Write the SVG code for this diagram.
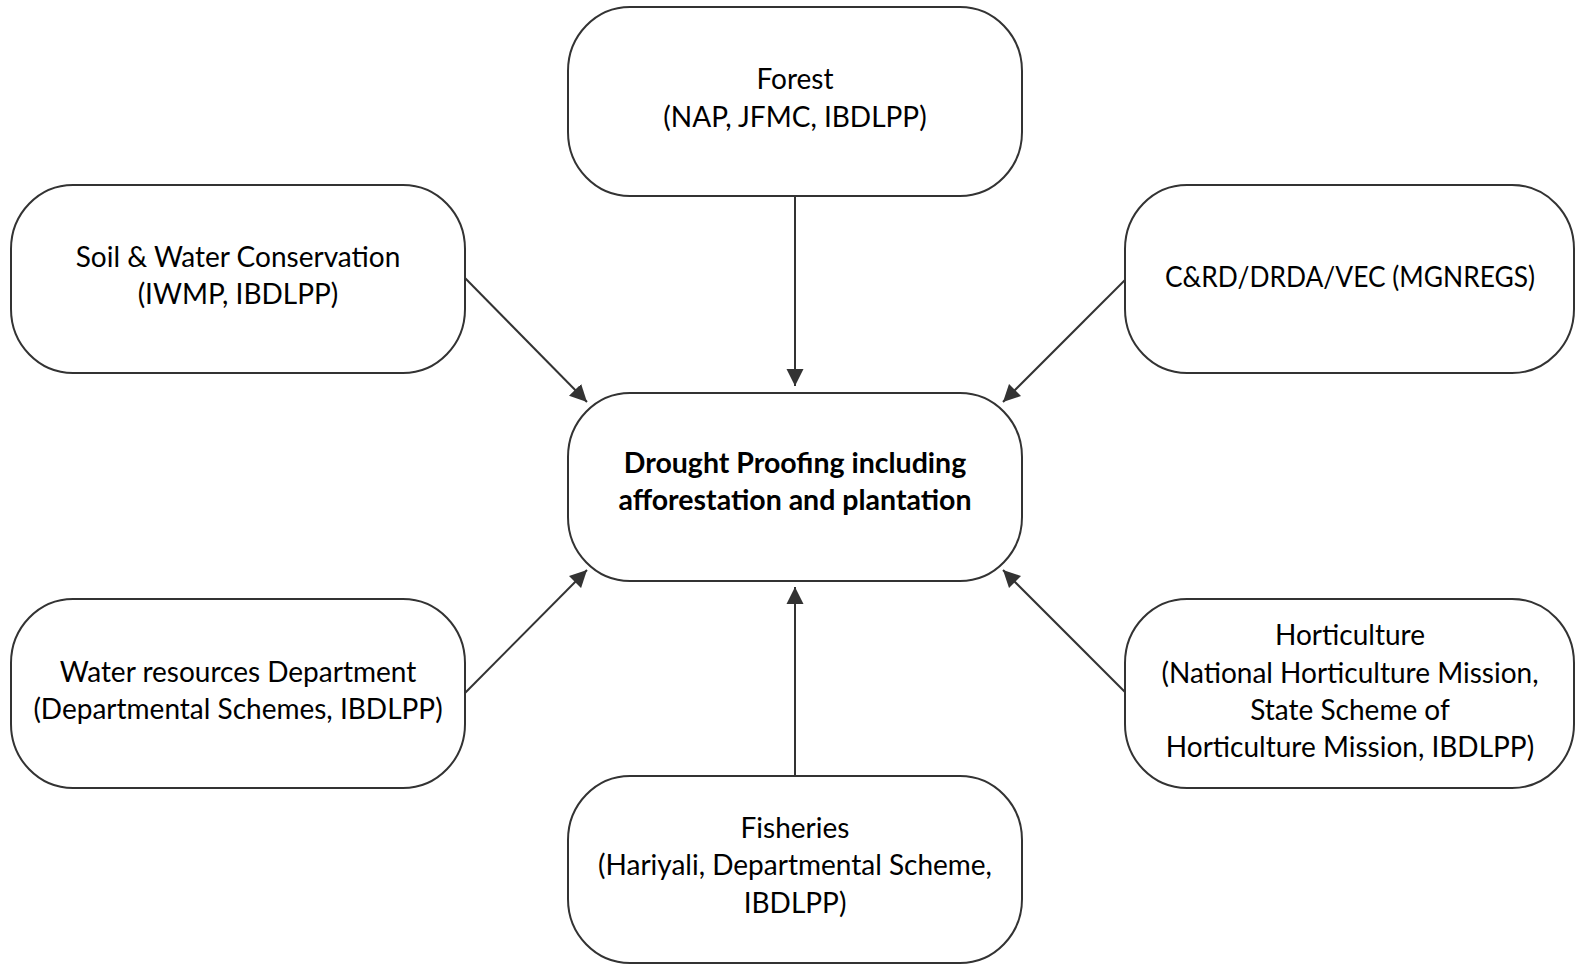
<svg xmlns="http://www.w3.org/2000/svg" width="1575" height="965" viewBox="0 0 1575 965">
<style>
  .box { fill: #ffffff; stroke: #333333; stroke-width: 2; }
  .t { font-family: Lato, "Open Sans", "Liberation Sans", sans-serif; font-size: 28px; fill: #000000; text-anchor: middle; }
  .b { font-weight: bold; font-size: 28.5px; }
  .conn { stroke: #333333; stroke-width: 2; fill: none; marker-end: url(#arrow); }
</style>
<defs>
  <marker id="arrow" markerUnits="userSpaceOnUse" markerWidth="18" markerHeight="18" viewBox="0 0 18 18" refX="17" refY="9" orient="auto">
    <path d="M0,0.5 L17,9 L0,17.5 Z" fill="#333333"/>
  </marker>
</defs>
<rect width="1575" height="965" fill="#ffffff"/>
<g id="connectors">
  <line class="conn" x1="795" y1="197" x2="795" y2="386"/>
  <line class="conn" x1="465" y1="278" x2="587" y2="402"/>
  <line class="conn" x1="1125" y1="280" x2="1003" y2="402"/>
  <line class="conn" x1="465" y1="693" x2="587" y2="570"/>
  <line class="conn" x1="1125" y1="692" x2="1003" y2="570"/>
  <line class="conn" x1="795" y1="776" x2="795" y2="587"/>
</g>
<g id="node-forest">
  <rect class="box" x="568" y="7" width="454" height="189" rx="62" ry="64"/>
  <text class="t" x="795" y="89">Forest</text>
  <text class="t" x="795" y="127">(NAP, JFMC, IBDLPP)</text>
</g>
<g id="node-soil">
  <rect class="box" x="11" y="185" width="454" height="188" rx="62" ry="64"/>
  <text class="t" x="238" y="267">Soil &amp; Water Conservation</text>
  <text class="t" x="238" y="304">(IWMP, IBDLPP)</text>
</g>
<g id="node-crd">
  <rect class="box" x="1125" y="185" width="449" height="188" rx="62" ry="64"/>
  <text class="t" x="1350" y="287" textLength="370" lengthAdjust="spacingAndGlyphs">C&amp;RD/DRDA/VEC (MGNREGS)</text>
</g>
<g id="node-center">
  <rect class="box" x="568" y="393" width="454" height="188" rx="62" ry="64"/>
  <text class="t b" x="795" y="473">Drought Proofing including</text>
  <text class="t b" x="795" y="510">afforestation and plantation</text>
</g>
<g id="node-water">
  <rect class="box" x="11" y="599" width="454" height="189" rx="62" ry="64"/>
  <text class="t" x="238" y="682">Water resources Department</text>
  <text class="t" x="238" y="719">(Departmental Schemes, IBDLPP)</text>
</g>
<g id="node-horticulture">
  <rect class="box" x="1125" y="599" width="449" height="189" rx="62" ry="64"/>
  <text class="t" x="1350" y="645">Horticulture</text>
  <text class="t" x="1350" y="683">(National Horticulture Mission,</text>
  <text class="t" x="1350" y="720">State Scheme of</text>
  <text class="t" x="1350" y="757">Horticulture Mission, IBDLPP)</text>
</g>
<g id="node-fisheries">
  <rect class="box" x="568" y="776" width="454" height="187" rx="62" ry="64"/>
  <text class="t" x="795" y="838">Fisheries</text>
  <text class="t" x="795" y="875">(Hariyali, Departmental Scheme,</text>
  <text class="t" x="795" y="913">IBDLPP)</text>
</g>
</svg>
